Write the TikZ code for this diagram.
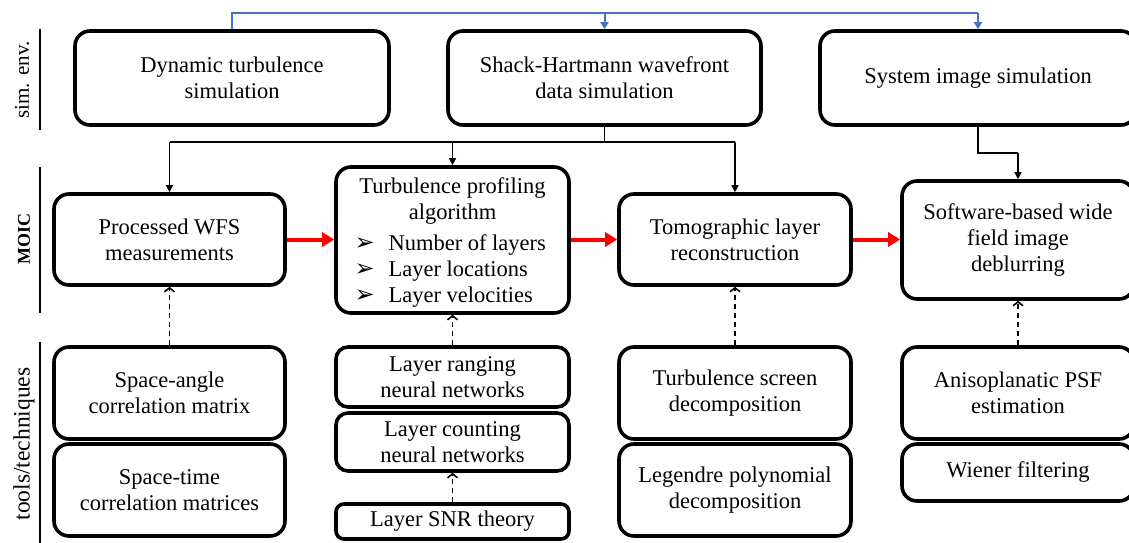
\documentclass[tikz,border=0pt]{standalone}
\usepackage{fontspec}
\setmainfont{Liberation Serif}
\newfontfamily\symfont{DejaVu Sans}
\usetikzlibrary{arrows.meta,calc}
\newcommand\mainfs{\fontsize{22.5}{26}\selectfont}
\newcommand\bul{{\symfont\fontsize{24}{24}\selectfont ➢}}
\definecolor{bluec}{RGB}{68,114,196}
\definecolor{redc}{RGB}{255,0,0}
\begin{document}
\begin{tikzpicture}[x=1pt,y=-1pt,
  box/.style={draw, line width=3.6pt, rounded corners=15pt, align=center, inner sep=0pt, font=\mainfs},
  blkline/.style={line width=1.4pt},
  blk/.style={line width=1.4pt, -{Triangle[length=7pt,width=7pt]}},
  blu/.style={draw=bluec, line width=2pt},
  bluarr/.style={draw=bluec, line width=2pt, -{Triangle[length=7pt,width=8pt]}},
  redarr/.style={draw=redc, line width=4pt, -{Triangle[length=12pt,width=14pt]}},
  dsh/.style={line width=1.7pt, dash pattern=on 5.5pt off 3.5pt, -{Straight Barb[length=4pt,width=10pt,line width=1.6pt]}},
  lab/.style={rotate=90, font=\mainfs},
  sep/.style={line width=1.5pt}]
\useasboundingbox (0,0) rectangle (1129,543);
\clip (0,0) rectangle (1129,543);
% left labels
\node[lab, font=\fontsize{21}{24}\selectfont] (lsim) at (22,80) {sim. env.};
\node[lab, font=\fontsize{18}{20}\selectfont\bfseries] (lmoic) at (24,239) {MOIC};
\node[lab, font=\fontsize{23.5}{26}\selectfont] (ltools) at (24,444) {tools/techniques};
\draw[sep] (40,29) -- (40,130);
\draw[sep] (40,167) -- (40,313);
\draw[sep] (40,342) -- (40,543);
% top row
\node[box, minimum width=314pt, minimum height=94pt] (dyn) at (232,78) {Dynamic turbulence\\simulation};
\node[box, minimum width=313pt, minimum height=94pt] (shack) at (604.5,78) {Shack-Hartmann wavefront\\data simulation};
\node[box, minimum width=316pt, minimum height=94pt] (sys) at (978,78) {System image simulation};
% MOIC row
\node[box, minimum width=231pt, minimum height=91pt] (proc) at (169.5,239.5) {Processed WFS\\measurements};
\node[box, minimum width=233pt, minimum height=146pt] (prof) at (452.5,240) {};
\node[font=\mainfs, align=center, anchor=base] (proft) at (452.5,219) {Turbulence profiling\\algorithm};
\node[font=\mainfs, anchor=base west] (pb1) at (351,250) {\makebox[34pt][l]{\bul}Number of layers};
\node[font=\mainfs, anchor=base west] (pb2) at (351,276) {\makebox[34pt][l]{\bul}Layer locations};
\node[font=\mainfs, anchor=base west] (pb3) at (351,302) {\makebox[34pt][l]{\bul}Layer velocities};
\node[box, minimum width=232pt, minimum height=91pt] (tomo) at (735,239.5) {Tomographic layer\\reconstruction};
\node[box, minimum width=232pt, minimum height=118pt] (soft) at (1018,240) {Software-based wide\\field image\\deblurring};
% tools row
\node[box, minimum width=231pt, minimum height=92pt] (sa) at (169.5,393) {Space-angle\\correlation matrix};
\node[box, minimum width=231pt, minimum height=92pt] (st) at (169.5,490) {Space-time\\correlation matrices};
\node[box, rounded corners=12pt, minimum width=233pt, minimum height=60pt] (lr) at (452.5,377) {Layer ranging\\neural networks};
\node[box, rounded corners=12pt, minimum width=233pt, minimum height=58pt] (lc) at (452.5,442) {Layer counting\\neural networks};
\node[box, rounded corners=8pt, minimum width=233pt, minimum height=35pt] (snr) at (452.5,521.5) {Layer SNR theory};
\node[box, minimum width=232pt, minimum height=92pt] (ts) at (735,393) {Turbulence screen\\decomposition};
\node[box, minimum width=232pt, minimum height=92pt] (lp) at (735,490) {Legendre polynomial\\decomposition};
\node[box, minimum width=232pt, minimum height=92pt] (an) at (1018,393) {Anisoplanatic PSF\\estimation};
\node[box, minimum width=232pt, minimum height=57pt] (wf) at (1018,472.5) {Wiener filtering};
% blue connectors
\coordinate (b1) at (232,13);
\coordinate (b2) at (978,13);
\draw[blu] (dyn.north) -- (b1) -- (b2);
\draw[bluarr] (b2) -- (sys.north);
\draw[bluarr] (shack.north |- b1) -- (shack.north);
% black connectors
\coordinate (j1) at (604.5,142);
\coordinate (jL) at (169.5,142);
\coordinate (jR) at (735,142);
\draw[blkline] (shack.south) -- (j1);
\draw[blkline] (jL) -- (jR);
\draw[blk] (jL) -- (proc.north);
\draw[blk] (prof.north |- j1) -- (prof.north);
\draw[blk] (jR) -- (tomo.north);
\coordinate (k1) at (978,153);
\coordinate (k2) at (1018,153);
\draw[blkline] (sys.south) -- (k1) -- (k2);
\draw[blk] (k2) -- (soft.north);
% red arrows
\draw[redarr] (proc.east) -- (prof.west |- proc.east);
\draw[redarr] (prof.east |- tomo.west) -- (tomo.west);
\draw[redarr] (tomo.east) -- (soft.west |- tomo.east);
% dashed arrows
\draw[dsh] (sa.north) -- (proc.south);
\draw[dsh] (lr.north) -- (prof.south);
\draw[dsh] (snr.north) -- (lc.south);
\draw[dsh] (ts.north) -- (tomo.south);
\draw[dsh] (an.north) -- (soft.south);
\end{tikzpicture}
\end{document}
